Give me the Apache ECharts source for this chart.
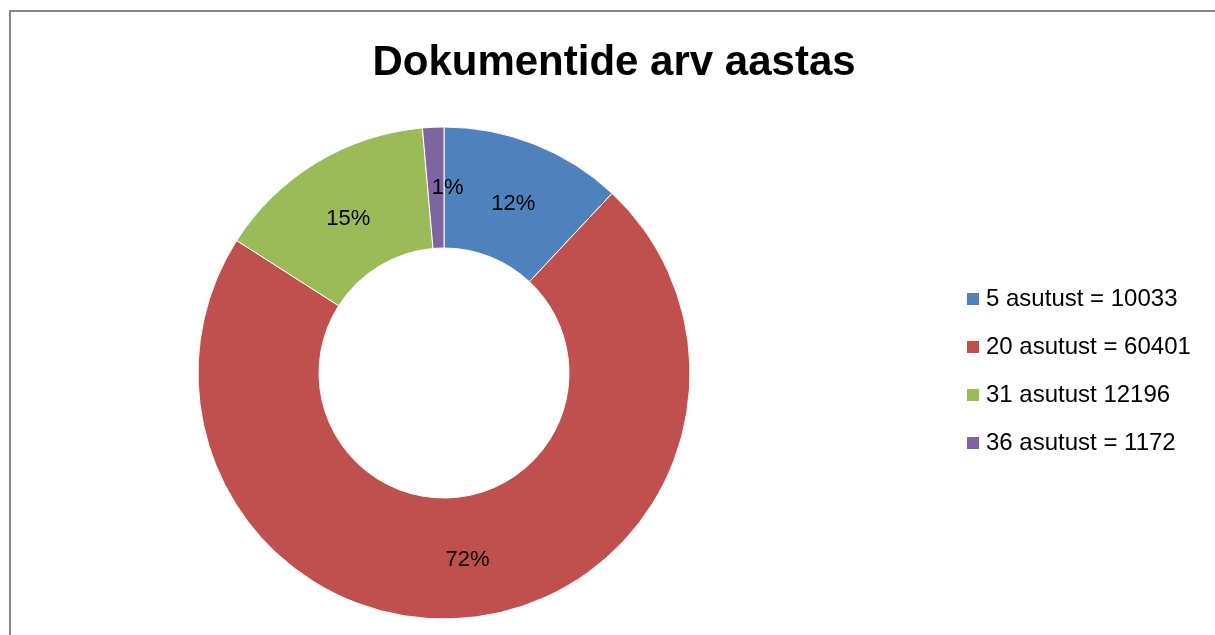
<!DOCTYPE html>
<html><head><meta charset="utf-8">
<script src="https://cdn.jsdelivr.net/npm/echarts@6/dist/echarts.min.js"></script>
<style>html,body{margin:0;padding:0;background:#fff}#c{width:1215px;height:635px}</style>
</head><body><div id="c"></div>
<script>
const title = 'Dokumentide arv aastas';
const categories = ['5 asutust = 10033', '20 asutust = 60401', '31 asutust 12196', '36 asutust = 1172'];
const values = [10033, 60401, 12196, 1172];
const colors = ['#4F81BD', '#C0504D', '#9BBB59', '#8064A2'];
const labelOffsets = [[0, 6], [0, 0], [2, 7], [12, 3]];

const chart = echarts.init(document.getElementById('c'), null, {renderer: 'canvas'});
chart.setOption({
  animation: false,
  backgroundColor: '#fff',
  title: {
    text: title, left: 609, top: 37, textAlign: 'center',
    textStyle: {fontFamily: 'Liberation Sans', fontWeight: 'bold', fontSize: 42, color: '#000'}
  },
  legend: {
    orient: 'vertical', left: 960, top: 282,
    itemWidth: 14, itemHeight: 14, itemGap: 24, icon: 'rect',
    textStyle: {fontFamily: 'Liberation Sans', fontSize: 24, color: '#000', padding: [0,0,0,1], lineHeight: 24},
    data: categories
  },
  graphic: [{
    type: 'rect', shape: {x: 10, y: 11, width: 1215, height: 640},
    style: {fill: 'none', stroke: '#878787', lineWidth: 2}, silent: true
  }],
  series: [{
    type: 'pie', center: [444, 373], radius: [125, 246], startAngle: 90, clockwise: true,
    avoidLabelOverlap: false,
    itemStyle: {borderColor: '#fff', borderWidth: 1},
    label: {show: true, position: 'inside', formatter: p => Math.round(p.percent) + '%',
      fontFamily: 'Liberation Sans', fontSize: 22, color: '#000'},
    labelLine: {show: false},
    data: categories.map((n, i) => ({name: n, value: values[i], itemStyle: {color: colors[i]},
      label: {offset: labelOffsets[i]}}))
  }]
});
</script></body></html>
